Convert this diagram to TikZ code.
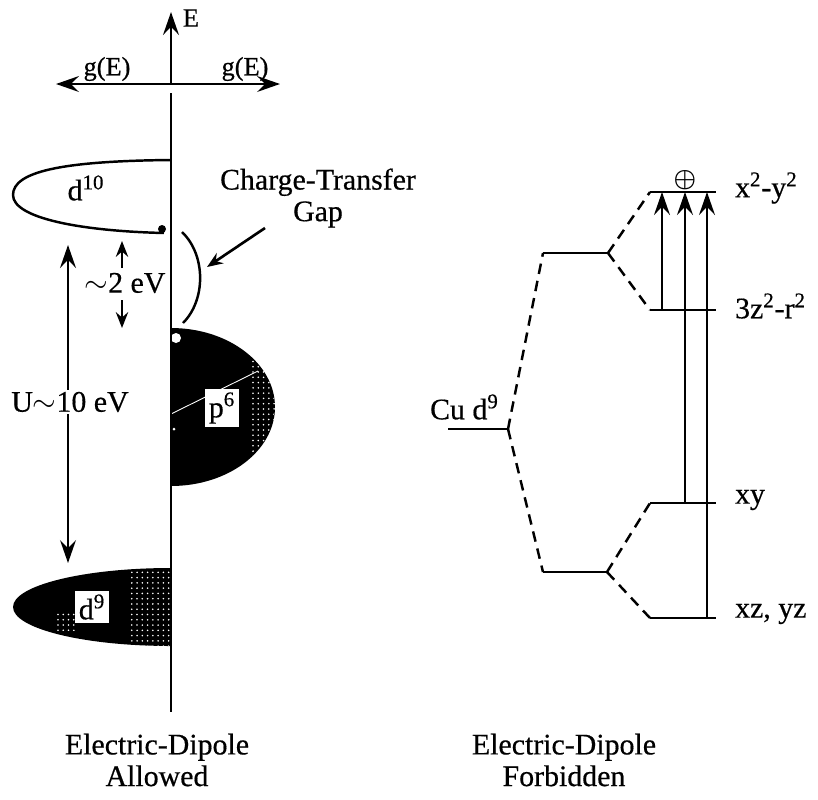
\documentclass[tikz,border=0pt]{standalone}
\usepackage{fontspec}
\setmainfont{Liberation Serif}[FakeBold=0.5]
\usetikzlibrary{arrows.meta,patterns}

\tikzset{
	txt/.style={font=\fontsize{17}{18}\selectfont, inner sep=1pt},
	small/.style={font=\fontsize{15}{16}\selectfont, inner sep=1pt},
	lvl/.style={line width=1.4pt},
	spl/.style={line width=1.4pt, dash pattern=on 6pt off 4pt},
	tip/.tip={Stealth[length=13pt,width=9pt,inset=4.5pt]},
	stip/.tip={Stealth[length=9pt,width=7pt,inset=3pt]},
	bigtip/.style={-tip, line width=1.4pt},
	smalltip/.style={-stip, line width=1.3pt},
}

\begin{document}
\begin{tikzpicture}[x=0.02cm, y=-0.02cm]
	\useasboundingbox (0,0) rectangle (818,799);
	% Bands, left side:
	\begin{scope}
		\clip (171,300) rectangle (320,500);
		\clip (171,407) ellipse [x radius=104, y radius=79];
		\fill (171,300) rectangle (320,500);
		\fill[pattern=dots, pattern color=white] (250,330) rectangle (320,480);
	\end{scope}
	\fill[white] (176,338) circle [radius=5];
	\fill[white] (174,429) circle [radius=1.5];
	\draw[white, line width=0.5pt] (171,414) -- (258,371);
	\node[txt, fill=white, inner sep=2pt] (p6) at (222,408) {p\textsuperscript{6}};
	\begin{scope}
		\clip (0,540) rectangle (171,680);
		\clip (171,607) ellipse [x radius=158, y radius=39];
		\fill (0,540) rectangle (171,680);
		\fill[pattern=dots, pattern color=white] (130,540) rectangle (171,680);
		\fill[pattern=dots, pattern color=white] (55,612) rectangle (75,630);
	\end{scope}
	\node[txt, fill=white, inner sep=2pt] (d9) at (92,607) {d\textsuperscript{9}};
	\draw[line width=1.4pt] (171,160) .. controls (60,161) and (13,172) .. (13,195) .. controls (13,218) and (80,231) .. (164,233);
	\fill (162,229) circle [radius=4];
	\node[txt] (d10) at (86,188) {d\textsuperscript{10}};
	% Axes:
	\coordinate (orig) at (171,84);
	\coordinate (etop) at (171,12);
	\coordinate (axtop) at (171,93);
	\coordinate (axbot) at (171,712);
	\coordinate (gleft) at (56,84);
	\coordinate (gright) at (280,84);
	\draw[bigtip] (orig) -- (etop);
	\draw[line width=1.6pt] (axtop) -- (axbot);
	\draw[tip-tip, line width=1.4pt] (gleft) -- (gright);
	\node[small] (E) at (191,18) {E};
	\node[small] (gl) at (107,69) {g(E)};
	\node[small] (gr) at (245,69) {g(E)};
	% Gaps:
	\coordinate (ct1) at (265,228);
	\coordinate (ct2) at (207,267);
	\node[txt, align=center] (ctg) at (318,198) {Charge-Transfer\\Gap};
	\draw[line width=1.4pt] (182,232) .. controls (206,255) and (206,300) .. (183,323);
	\draw[smalltip, line width=1.5pt] (ct1) -- (ct2);
	\coordinate (s1) at (122,268);
	\coordinate (s2) at (122,241);
	\coordinate (s3) at (122,300);
	\coordinate (s4) at (122,328);
	\node[txt] (two) at (125,283) {$\sim$2 eV};
	\draw[smalltip] (s1) -- (s2);
	\draw[smalltip] (s3) -- (s4);
	\coordinate (u1) at (68,245);
	\coordinate (u2) at (68,563);
	\draw[tip-tip, line width=1.4pt] (u1) -- (u2);
	\node[txt, fill=white] (U) at (70,402) {U$\sim$10 eV};
	% Levels, right side:
	\draw[lvl] (448,429) coordinate (cuL) -- (508,429) coordinate (cuR);
	\draw[lvl] (543,253) coordinate (egL) -- (608,253) coordinate (egR);
	\draw[lvl] (543,572) coordinate (tL) -- (607,572) coordinate (tR);
	\draw[lvl] (650,192) coordinate (x2L) -- (716,192) coordinate (x2R);
	\draw[lvl] (650,310) coordinate (z2L) -- (716,310) coordinate (z2R);
	\draw[lvl] (650,503) coordinate (xyL) -- (716,503) coordinate (xyR);
	\draw[lvl] (650,618) coordinate (xzL) -- (716,618) coordinate (xzR);
	\draw[spl] (cuR) -- (egL);
	\draw[spl] (cuR) -- (tL);
	\draw[spl] (egR) -- (x2L);
	\draw[spl] (egR) -- (z2L);
	\draw[spl] (tR) -- (xyL);
	\draw[spl] (tR) -- (xzL);
	\coordinate (a1) at (662,310);
	\coordinate (a2) at (685,503);
	\coordinate (a3) at (707,618);
	\draw[bigtip] (a1) -- (a1 |- x2L);
	\draw[bigtip] (a2) -- (a2 |- x2L);
	\draw[bigtip] (a3) -- (a3 |- x2L);
	\node[font=\fontsize{15}{16}\selectfont\boldmath, inner sep=0pt] (hole) at (685,180) {$\oplus$};
	\node[txt, anchor=west] (lx2) at (733,188) {x\textsuperscript{2}-y\textsuperscript{2}};
	\node[txt, anchor=west] (lz2) at (733,306) {3z\textsuperscript{2}-r\textsuperscript{2}};
	\node[txt, anchor=west] (lxy) at (733,500) {xy};
	\node[txt, anchor=west] (lxz) at (733,614) {xz, yz};
	\node[txt, anchor=west] (cud9) at (428,407) {Cu d\textsuperscript{9}};
	% Captions:
	\node[txt, align=center] (allow) at (157,760) {Electric-Dipole\\Allowed};
	\node[txt, align=center] (forbid) at (564,760) {Electric-Dipole\\Forbidden};
\end{tikzpicture}
\end{document}
